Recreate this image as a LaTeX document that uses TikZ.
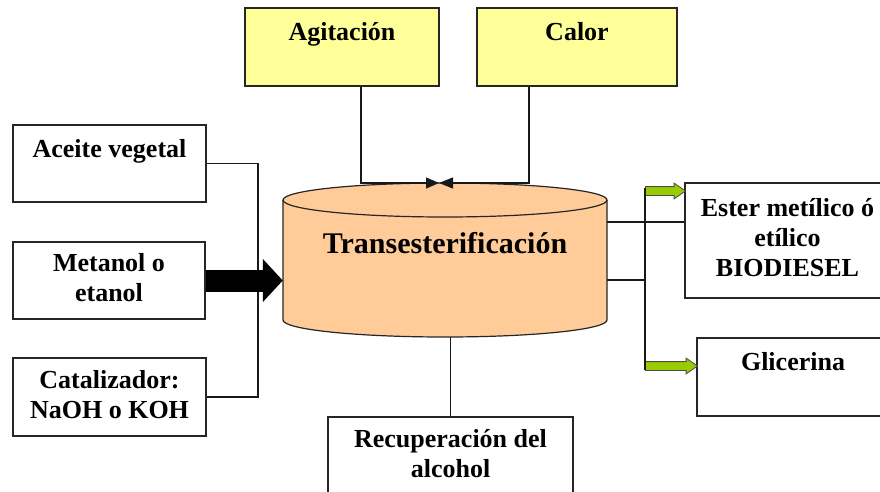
\documentclass[tikz,border=0pt]{standalone}
\usepackage{fontspec}
\setmainfont{Liberation Serif}
\usetikzlibrary{shapes.arrows,arrows.meta}
\definecolor{boxyellow}{HTML}{FFFF99}
\definecolor{tankpeach}{HTML}{FFCC99}
\definecolor{arrowgreen}{HTML}{99CC00}
\tikzset{
  box/.style={draw=black!85, line width=1.3pt, rectangle, align=center, inner sep=0pt, font=\fontsize{26}{30}\selectfont\bfseries},
  link/.style={draw=black!90, line width=1.3pt},
  garrow/.style={single arrow, draw=black!70, fill=arrowgreen, line width=0.8pt, text height=4pt, text depth=4pt, inner sep=0pt, single arrow head extend=3.5pt, single arrow tip angle=70, anchor=tail},
}
\begin{document}
\begin{tikzpicture}[x=1pt,y=-1pt]
\clip (0,0) rectangle (880,492);
\fill[white] (0,0) rectangle (880,492);
\node[box, fill=boxyellow, minimum width=194pt, minimum height=78pt] (agit) at (342,47) {Agitación\\[-8pt]\strut};
\node[box, fill=boxyellow, minimum width=200pt, minimum height=78pt] (calor) at (577,47) {Calor\\[-8pt]\strut};
\node[box, minimum width=193pt, minimum height=77pt] (aceite) at (109.5,163.5) {Aceite vegetal\\[-8pt]\strut};
\node[box, minimum width=192pt, minimum height=77pt] (metanol) at (109,280.5) {\strut Metanol o\\\strut etanol};
\node[box, minimum width=193pt, minimum height=78pt] (catal) at (109.5,397) {\strut Catalizador:\\\strut NaOH o KOH};
\node[box, minimum width=205pt, minimum height=115pt] (ester) at (787.5,240.5) {\strut Ester metílico ó\\\strut etílico\\\strut BIODIESEL};
\node[box, minimum width=192pt, minimum height=78pt] (glic) at (793,377) {Glicerina\\[-8pt]\strut};
\node[box, minimum width=245pt, minimum height=78pt] (recup) at (450.5,456) {\strut Recuperación del\\\strut alcohol};
\node[minimum width=324pt, minimum height=154pt, inner sep=0pt] (tank) at (445,260) {};
\filldraw[fill=tankpeach, draw=black!85, line width=1.2pt] (283,200) -- (283,320) arc[start angle=180, end angle=360, x radius=162pt, y radius=17pt] -- (607,200) arc[start angle=0, end angle=180, x radius=162pt, y radius=17pt] -- cycle;
\draw[draw=black!85, line width=1.2pt] (283,200) arc[start angle=180, end angle=360, x radius=162pt, y radius=17pt];
\node[anchor=base, font=\fontsize{30}{34}\selectfont\bfseries] (tlabel) at ([yshift=7pt]tank.center) {Transesterificación};
\coordinate (mix) at (439,183);
\coordinate (merge) at (258,280);
\draw[link, -{Triangle[length=13pt,width=11pt]}] ([xshift=19pt]agit.south) |- (mix);
\draw[link, -{Triangle[length=14pt,width=11pt]}] ([xshift=-48pt]calor.south) |- (mix);
\draw[link] (aceite.east) -| (merge) |- (catal.east);
\draw[line width=22pt, -{Triangle[length=20pt,width=42pt]}] (metanol.east) -- (metanol.east -| tank.west);
\draw[link] (recup.north |- tank.south) -- (recup.north);
\node[garrow, minimum height=40pt] (toester) at (645,191) {};
\node[garrow, minimum height=52pt] (toglic) at (645,366) {};
\draw[link] ([yshift=38pt]tank.east) -- ([yshift=38pt]tank.east -| ester.west);
\draw[link] ([yshift=-20pt]tank.east) -- ([yshift=-20pt]tank.east -| toester.tail);
\draw[link] ([yshift=3pt]toester.tail) -- ([yshift=-4pt]toglic.tail);
\end{tikzpicture}
\end{document}
